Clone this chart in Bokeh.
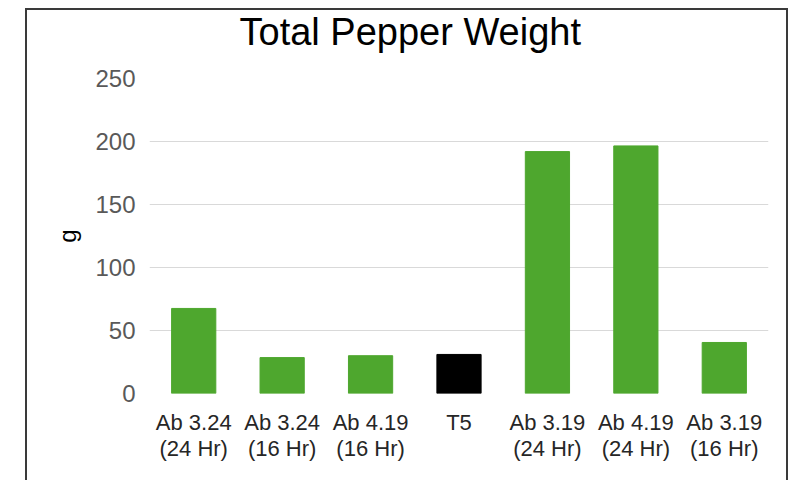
from bokeh.plotting import figure
from bokeh.models import ColumnDataSource, Range1d, FixedTicker, FactorRange, Title
from bokeh.embed import file_html
from bokeh.resources import INLINE

title_text = "Total Pepper Weight"
categories = ["Ab 3.24\n(24 Hr)", "Ab 3.24\n(16 Hr)", "Ab 4.19\n(16 Hr)", "T5",
              "Ab 3.19\n(24 Hr)", "Ab 4.19\n(24 Hr)", "Ab 3.19\n(16 Hr)"]
weights = [67.5, 28.5, 30, 31, 192, 196.5, 40.5]
y_ticks = [0, 50, 100, 150, 200, 250]
control = "T5"

GREEN = "#4EA72E"
colors = ["#000000" if c == control else GREEN for c in categories]

src = ColumnDataSource(dict(cat=categories, val=weights, color=colors))

FONT = "Liberation Sans"

p = figure(x_range=FactorRange(*categories), y_range=Range1d(0, 250),
           width=763, height=472, output_backend="svg", toolbar_location=None,
           min_border_left=122, min_border_right=22, min_border_top=67,
           min_border_bottom=89)
p.styles = {"border-left": "2px solid #3a3a3a", "border-right": "2px solid #3a3a3a",
            "border-top": "2px solid #3a3a3a", "margin-left": "25px",
            "margin-top": "8px"}

p.vbar(x="cat", top="val", width=0.5, color="color", source=src)

# blank spacer between frame and title, then the real title above it
p.add_layout(Title(text=" ", text_font=FONT, text_font_size="10px", standoff=11), "above")
p.add_layout(Title(text=title_text, text_font=FONT, text_font_size="38px",
                   text_font_style="normal", text_color="#000000",
                   align="left", offset=90, vertical_align="top", standoff=0), "above")

p.outline_line_color = None
p.xgrid.grid_line_color = None
p.ygrid.grid_line_color = "#d9d9d9"
p.ygrid.grid_line_width = 1

p.yaxis.ticker = FixedTicker(ticks=y_ticks)
p.yaxis.axis_line_color = None
p.yaxis.major_tick_line_color = None
p.yaxis.minor_tick_line_color = None
p.yaxis.major_tick_out = 0
p.yaxis.major_label_standoff = 14
p.yaxis.major_label_text_font = FONT
p.yaxis.major_label_text_font_size = "24px"
p.yaxis.major_label_text_color = "#595959"
p.yaxis.axis_label = "g"
p.yaxis.axis_label_text_font = FONT
p.yaxis.axis_label_text_font_size = "24px"
p.yaxis.axis_label_text_font_style = "normal"
p.yaxis.axis_label_text_color = "#000000"
p.yaxis.axis_label_standoff = 11

p.xaxis.axis_line_color = None
p.xaxis.major_tick_line_color = None
p.xaxis.major_tick_out = 0
p.xaxis.major_label_standoff = 16
p.xaxis.major_label_text_font = FONT
p.xaxis.major_label_text_font_size = "22px"
p.xaxis.major_label_text_line_height = 1.05
p.xaxis.major_label_text_color = "#262626"

p.x_range.range_padding = 0
p.x_range.factor_padding = 0

open("out.html", "w").write(file_html(p, INLINE))
